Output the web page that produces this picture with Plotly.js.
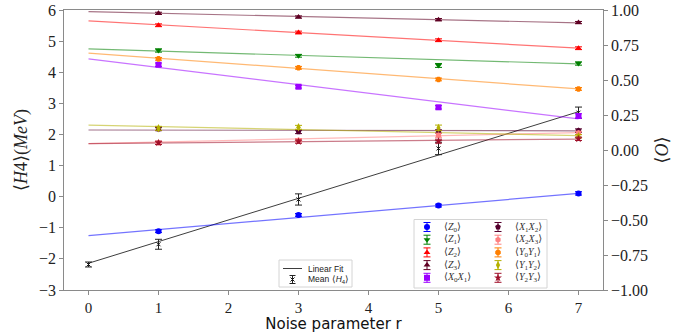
<!DOCTYPE html>
<html>
<head>
<meta charset="utf-8">
<script src="https://cdn.plot.ly/plotly-3.0.1.min.js"></script>
<style>html,body{margin:0;padding:0;background:#fff;}#chart{width:690px;height:333px;}</style>
</head>
<body>
<div id="chart"></div>
<script>
// ---------- data ----------
const noiseR = [1, 3, 5, 7];          // noise parameter of the observable points
const fitR = [0, 7];                  // span of the linear fits

const Z0 = [-0.580, -0.464, -0.397, -0.310];
const Z0_err = [0.010, 0.010, 0.010, 0.012];
const Z0_fit = [-0.611, -0.310];

const Z1 = [0.711, 0.673, 0.604, 0.618];
const Z1_err = [0.012, 0.010, 0.014, 0.012];
const Z1_fit = [0.722, 0.615];

const Z2 = [0.891, 0.839, 0.784, 0.727];
const Z2_err = [0.010, 0.010, 0.010, 0.010];
const Z2_fit = [0.922, 0.727];

const Z3 = [0.976, 0.950, 0.931, 0.910];
const Z3_err = [0.008, 0.008, 0.008, 0.008];
const Z3_fit = [0.988, 0.908];

const X0X1 = [0.609, 0.452, 0.305, 0.243];
const X0X1_err = [0.012, 0.010, 0.012, 0.016];
const X0X1_fit = [0.651, 0.222];

const X1X2 = [0.150, 0.129, 0.132, 0.139];
const X1X2_err = [0.012, 0.012, 0.012, 0.012];
const X1X2_fit = [0.143, 0.137];

const X2X3 = [0.051, 0.070, 0.105, 0.122];
const X2X3_err = [0.012, 0.012, 0.014, 0.012];
const X2X3_fit = [0.046, 0.124];

const Y0Y1 = [0.651, 0.587, 0.504, 0.436];
const Y0Y1_err = [0.010, 0.010, 0.010, 0.010];
const Y0Y1_fit = [0.692, 0.436];

const Y1Y2 = [0.155, 0.162, 0.158, 0.098];
const Y1Y2_err = [0.014, 0.014, 0.020, 0.012];
const Y1Y2_fit = [0.178, 0.103];

const Y2Y3 = [0.051, 0.060, 0.063, 0.080];
const Y2Y3_err = [0.012, 0.012, 0.014, 0.012];
const Y2Y3_fit = [0.046, 0.078];

const h4R = [0, 1, 3, 5, 7];
const h4Mean = [-2.18, -1.53, -0.09, 1.55, 2.70];
const h4Err = [0.08, 0.16, 0.18, 0.20, 0.18];
const h4Fit = [-2.14, 2.73];

const obsLabels = ['⟨<i>Z</i><sub>0</sub>⟩', '⟨<i>Z</i><sub>1</sub>⟩', '⟨<i>Z</i><sub>2</sub>⟩', '⟨<i>Z</i><sub>3</sub>⟩',
  '⟨<i>X</i><sub>0</sub><i>X</i><sub>1</sub>⟩', '⟨<i>X</i><sub>1</sub><i>X</i><sub>2</sub>⟩', '⟨<i>X</i><sub>2</sub><i>X</i><sub>3</sub>⟩',
  '⟨<i>Y</i><sub>0</sub><i>Y</i><sub>1</sub>⟩', '⟨<i>Y</i><sub>1</sub><i>Y</i><sub>2</sub>⟩', '⟨<i>Y</i><sub>2</sub><i>Y</i><sub>3</sub>⟩'];
const fitLegendLabels = ['Linear Fit', 'Mean ⟨<i>H</i><sub>4</sub>⟩'];
const xTicks = [0, 1, 2, 3, 4, 5, 6, 7];

// ---------- styles ----------
const series = [
  {v: Z0, e: Z0_err, f: Z0_fit, c: [0, 0, 255], sym: 'circle'},
  {v: Z1, e: Z1_err, f: Z1_fit, c: [0, 128, 0], sym: 'triangle-down'},
  {v: Z2, e: Z2_err, f: Z2_fit, c: [255, 0, 0], sym: 'triangle-up'},
  {v: Z3, e: Z3_err, f: Z3_fit, c: [95, 0, 35], sym: 'triangle-up'},
  {v: X0X1, e: X0X1_err, f: X0X1_fit, c: [155, 0, 255], sym: 'square'},
  {v: X1X2, e: X1X2_err, f: X1X2_fit, c: [85, 0, 45], sym: 'pentagon'},
  {v: X2X3, e: X2X3_err, f: X2X3_fit, c: [255, 128, 128], sym: 'hexagon'},
  {v: Y0Y1, e: Y0Y1_err, f: Y0Y1_fit, c: [255, 127, 0], sym: 'octagon'},
  {v: Y1Y2, e: Y1Y2_err, f: Y1Y2_fit, c: [181, 176, 0], sym: 'diamond-tall'},
  {v: Y2Y3, e: Y2Y3_err, f: Y2Y3_fit, c: [160, 16, 42], sym: 'star'}
];
const rgb = (c, a) => `rgba(${c[0]},${c[1]},${c[2]},${a})`;

const traces = [];
// black mean H4 (left axis)
traces.push({x: fitR, y: h4Fit, xaxis: 'x', yaxis: 'y', mode: 'lines', line: {color: 'rgba(40,40,40,0.9)', width: 1}, hoverinfo: 'skip'});
traces.push({x: h4R, y: h4Mean, xaxis: 'x', yaxis: 'y', mode: 'markers',
  marker: {symbol: 'x-thin', size: 4, color: '#111', line: {width: 1, color: '#111'}},
  error_y: {type: 'data', array: h4Err, visible: true, color: '#222', thickness: 1, width: 3.5}});

// observables (right axis)
series.forEach(s => {
  traces.push({x: fitR, y: s.f, xaxis: 'x', yaxis: 'y2', mode: 'lines', line: {color: rgb(s.c, 0.55), width: 1.2}, hoverinfo: 'skip'});
});
series.forEach(s => {
  traces.push({x: noiseR, y: s.v, xaxis: 'x', yaxis: 'y2', mode: 'markers',
    marker: {symbol: s.sym, size: 6, color: rgb(s.c, 1)},
    error_y: {type: 'data', array: s.e, visible: true, color: rgb(s.c, 1), thickness: 1, width: 3.5}});
});

// ---------- legends (drawn in a pixel-mapped overlay axis) ----------
const shapes = [];
const annotations = [];
const legBox = {x0: 414, x1: 547, y0: 219.5, y1: 288};
const rowY0 = 227, rowStep = 12.7;
const colMarkX = [427, 498], colTextX = [442, 513];
shapes.push({type: 'rect', xref: 'x3', yref: 'y3', x0: legBox.x0, x1: legBox.x1, y0: legBox.y0, y1: legBox.y1,
  line: {color: '#d4d4d4', width: 1}, fillcolor: 'rgba(255,255,255,0.85)', layer: 'below'});
series.forEach((s, i) => {
  const col = Math.floor(i / 5), row = i % 5;
  const y = rowY0 + row * rowStep;
  traces.push({x: [colMarkX[col]], y: [y], xaxis: 'x3', yaxis: 'y3', mode: 'markers', hoverinfo: 'skip', cliponaxis: false,
    marker: {symbol: s.sym, size: 6, color: rgb(s.c, 1)},
    error_y: {type: 'constant', value: 4.5, visible: true, color: rgb(s.c, 1), thickness: 1, width: 3.5}});
  annotations.push({xref: 'x3', yref: 'y3', x: colTextX[col], y: y, text: obsLabels[i], showarrow: false,
    xanchor: 'left', yanchor: 'middle', font: {family: 'Liberation Serif, DejaVu Serif, serif', size: 10, color: '#333'}});
});

const fitBox = {x0: 279, x1: 352, y0: 260, y1: 287};
shapes.push({type: 'rect', xref: 'x3', yref: 'y3', x0: fitBox.x0, x1: fitBox.x1, y0: fitBox.y0, y1: fitBox.y1,
  line: {color: '#d4d4d4', width: 1}, fillcolor: 'rgba(255,255,255,0.85)', layer: 'below'});
traces.push({x: [283, 302], y: [268.5, 268.5], xaxis: 'x3', yaxis: 'y3', mode: 'lines', hoverinfo: 'skip', cliponaxis: false,
  line: {color: 'rgba(40,40,40,0.9)', width: 1}});
traces.push({x: [292.5], y: [279.5], xaxis: 'x3', yaxis: 'y3', mode: 'markers', hoverinfo: 'skip', cliponaxis: false,
  marker: {symbol: 'x-thin', size: 4, color: '#111', line: {width: 1, color: '#111'}},
  error_y: {type: 'constant', value: 4, visible: true, color: '#222', thickness: 1, width: 3}});
[268.5, 279.5].forEach((y, i) => {
  annotations.push({xref: 'x3', yref: 'y3', x: 306, y: y, text: fitLegendLabels[i], showarrow: false,
    xanchor: 'left', yanchor: 'middle', font: {family: 'Liberation Sans, Arial, sans-serif', size: 8.5, color: '#222'}});
});

const axisCommon = {showgrid: false, zeroline: false, showline: true, linecolor: '#8a8a8a', linewidth: 1.2,
  ticks: 'outside', ticklen: 3.5, tickwidth: 1, tickcolor: '#8a8a8a',
  tickfont: {family: 'Liberation Serif, DejaVu Serif, serif', size: 16, color: '#222'}};

const layout = {
  width: 690, height: 333,
  margin: {l: 64, r: 87, t: 10, b: 43, pad: 0},
  paper_bgcolor: '#ffffff', plot_bgcolor: '#ffffff',
  showlegend: false,
  font: {family: 'Liberation Serif, DejaVu Serif, serif', size: 16, color: '#222'},
  xaxis: Object.assign({}, axisCommon, {range: [-0.35, 7.35], tickmode: 'array', tickvals: xTicks, mirror: true,
    tickfont: {family: 'Liberation Serif, DejaVu Serif, serif', size: 15, color: '#222'},
    title: {text: 'Noise parameter r', font: {family: 'DejaVu Sans, sans-serif', size: 15, color: '#111'}, standoff: 4}}),
  yaxis: Object.assign({}, axisCommon, {range: [-3, 6], dtick: 1, tick0: 0,
    title: {text: '⟨<i>H</i>4⟩(<i>MeV</i>)', font: {family: 'Liberation Serif, DejaVu Serif, serif', size: 18, color: '#222'}, standoff: 6}}),
  yaxis2: Object.assign({}, axisCommon, {overlaying: 'y', side: 'right', anchor: 'x', range: [-1, 1], dtick: 0.25, tick0: 0, tickformat: '.2f',
    title: {text: '⟨<i>O</i>⟩', font: {family: 'Liberation Serif, DejaVu Serif, serif', size: 18, color: '#222'}, standoff: 8}}),
  xaxis3: {overlaying: 'x', anchor: 'y3', range: [64, 603], visible: false, fixedrange: true},
  yaxis3: {overlaying: 'y', anchor: 'x3', range: [290, 10], visible: false, fixedrange: true},
  shapes: shapes,
  annotations: annotations
};

Plotly.newPlot('chart', traces, layout, {staticPlot: true, displayModeBar: false});
</script>
</body>
</html>
